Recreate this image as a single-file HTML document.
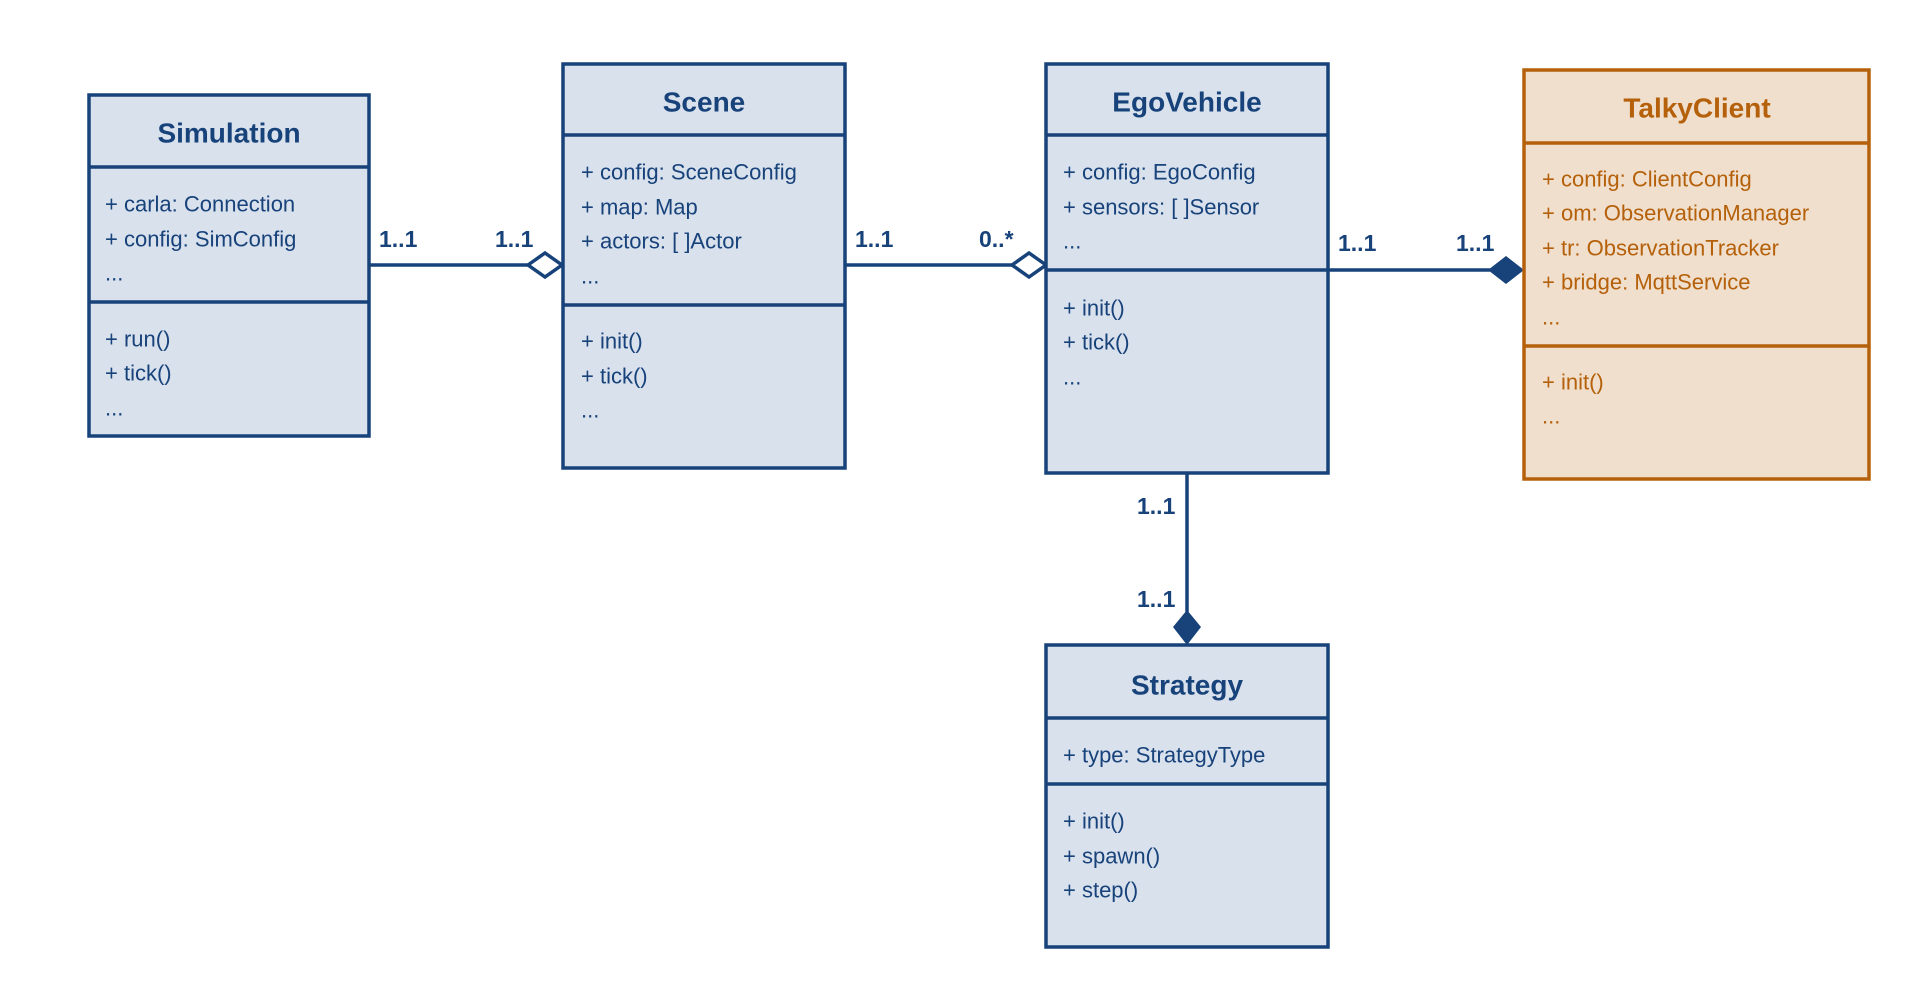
<!DOCTYPE html>
<html><head><meta charset="utf-8"><style>
html,body{margin:0;padding:0;background:#fff;}
svg{display:block;}
text{font-family:"Liberation Sans",sans-serif;}
.b{fill:#d9e1ed;stroke:#17427a;stroke-width:3.5;}
.o{fill:#f0dfcc;stroke:#b5600b;stroke-width:3.5;}
.lb{stroke:#17427a;stroke-width:3.5;}
.lo{stroke:#b5600b;stroke-width:3.5;}
.t{font-weight:bold;font-size:28px;fill:#17427a;}
.a{font-size:22px;fill:#17427a;}
.to{font-weight:bold;font-size:28px;fill:#b5600b;}
.ao{font-size:22px;fill:#b5600b;}
.m{font-weight:bold;font-size:23px;fill:#17427a;}
</style></head><body>
<svg width="1924" height="984" viewBox="0 0 1924 984" xmlns="http://www.w3.org/2000/svg">
<g dominant-baseline="central">
<line x1="369" y1="265" x2="528" y2="265" class="lb"/>
<polygon points="528,265 545,253 562,265 545,277" fill="#fff" stroke="#17427a" stroke-width="3.5"/>
<line x1="845" y1="265" x2="1012" y2="265" class="lb"/>
<polygon points="1012,265 1029,253 1046,265 1029,277" fill="#fff" stroke="#17427a" stroke-width="3.5"/>
<line x1="1328" y1="270" x2="1490" y2="270" class="lb"/>
<polygon points="1488,270 1506,256 1524,270 1506,284" fill="#17427a"/>
<line x1="1187" y1="473" x2="1187" y2="612" class="lb"/>
<polygon points="1187,610 1201,627 1187,645 1173,627" fill="#17427a"/>
<text x="379" y="239" class="m">1..1</text>
<text x="495" y="239" class="m">1..1</text>
<text x="855" y="239" class="m">1..1</text>
<text x="979" y="239" class="m">0..*</text>
<text x="1338" y="243" class="m">1..1</text>
<text x="1456" y="243" class="m">1..1</text>
<text x="1137" y="506" class="m">1..1</text>
<text x="1137" y="599" class="m">1..1</text>

<rect x="89" y="95" width="280" height="341" class="b"/>
<line x1="89" y1="167" x2="369" y2="167" class="lb"/>
<line x1="89" y1="302" x2="369" y2="302" class="lb"/>
<text x="229" y="133" text-anchor="middle" class="t">Simulation</text>
<text x="105" y="204" class="a">+ carla: Connection</text>
<text x="105" y="239" class="a">+ config: SimConfig</text>
<text x="105" y="273" class="a">...</text>
<text x="105" y="339" class="a">+ run()</text>
<text x="105" y="373" class="a">+ tick()</text>
<text x="105" y="408" class="a">...</text>

<rect x="563" y="64" width="282" height="404" class="b"/>
<line x1="563" y1="135" x2="845" y2="135" class="lb"/>
<line x1="563" y1="305" x2="845" y2="305" class="lb"/>
<text x="704" y="102" text-anchor="middle" class="t">Scene</text>
<text x="581" y="172" class="a">+ config: SceneConfig</text>
<text x="581" y="207" class="a">+ map: Map</text>
<text x="581" y="241" class="a">+ actors: [ ]Actor</text>
<text x="581" y="276" class="a">...</text>
<text x="581" y="341" class="a">+ init()</text>
<text x="581" y="376" class="a">+ tick()</text>
<text x="581" y="410" class="a">...</text>

<rect x="1046" y="64" width="282" height="409" class="b"/>
<line x1="1046" y1="135" x2="1328" y2="135" class="lb"/>
<line x1="1046" y1="270" x2="1328" y2="270" class="lb"/>
<text x="1187" y="102" text-anchor="middle" class="t">EgoVehicle</text>
<text x="1063" y="172" class="a">+ config: EgoConfig</text>
<text x="1063" y="207" class="a">+ sensors: [ ]Sensor</text>
<text x="1063" y="241" class="a">...</text>
<text x="1063" y="308" class="a">+ init()</text>
<text x="1063" y="342" class="a">+ tick()</text>
<text x="1063" y="377" class="a">...</text>

<rect x="1524" y="70" width="345" height="409" class="o"/>
<line x1="1524" y1="143" x2="1869" y2="143" class="lo"/>
<line x1="1524" y1="346" x2="1869" y2="346" class="lo"/>
<text x="1697" y="108" text-anchor="middle" class="to">TalkyClient</text>
<text x="1542" y="179" class="ao">+ config: ClientConfig</text>
<text x="1542" y="213" class="ao">+ om: ObservationManager</text>
<text x="1542" y="248" class="ao">+ tr: ObservationTracker</text>
<text x="1542" y="282" class="ao">+ bridge: MqttService</text>
<text x="1542" y="317" class="ao">...</text>
<text x="1542" y="382" class="ao">+ init()</text>
<text x="1542" y="416" class="ao">...</text>

<rect x="1046" y="645" width="282" height="302" class="b"/>
<line x1="1046" y1="718" x2="1328" y2="718" class="lb"/>
<line x1="1046" y1="784" x2="1328" y2="784" class="lb"/>
<text x="1187" y="685" text-anchor="middle" class="t">Strategy</text>
<text x="1063" y="755" class="a">+ type: StrategyType</text>
<text x="1063" y="821" class="a">+ init()</text>
<text x="1063" y="856" class="a">+ spawn()</text>
<text x="1063" y="890" class="a">+ step()</text>
</g>
</svg>
</body></html>
